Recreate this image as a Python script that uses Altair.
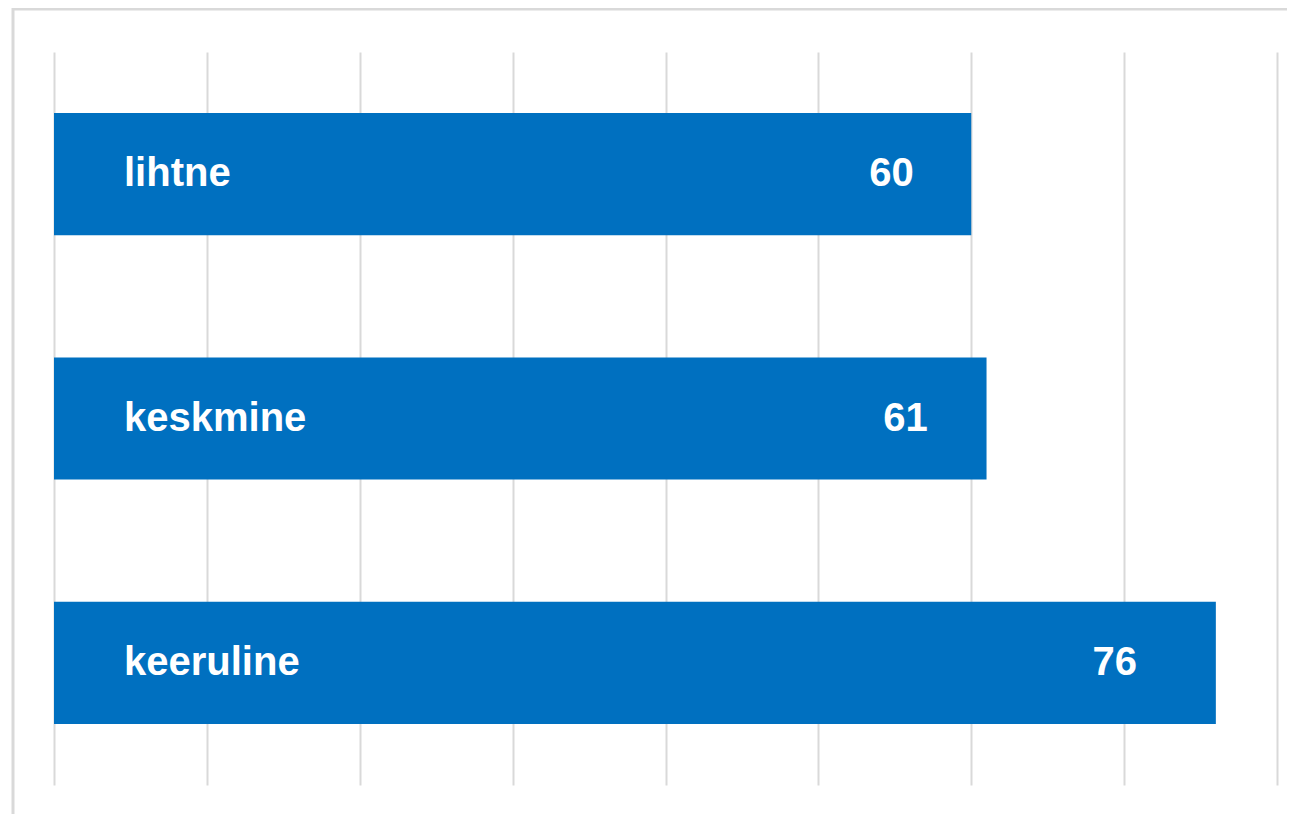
import altair as alt
import pandas as pd

categories = ["lihtne", "keskmine", "keeruline"]
values = [60, 61, 76]
grid_values = [0, 10, 20, 30, 40, 50, 60, 70, 80]

df = pd.DataFrame({"category": categories, "value": values})

W, H = 1223, 733
FONT = "Liberation Sans"

x_scale = alt.Scale(domain=[0, 80], nice=False, zero=True)
y_scale = alt.Scale(domain=categories, paddingInner=0.5, paddingOuter=0.25)

base = alt.Chart(df)

bars = base.mark_bar(color="#0070C0").encode(
    x=alt.X("value:Q", scale=x_scale,
            axis=alt.Axis(values=grid_values, labels=False, ticks=False, domain=False,
                          title=None, grid=True, gridColor="#d9d9d9", gridWidth=2)),
    y=alt.Y("category:N", scale=y_scale, sort=categories, axis=None),
)

cat_labels = base.mark_text(
    align="left", baseline="middle", dx=70, font=FONT, fontWeight="bold",
    fontSize=40, color="white"
).encode(
    x=alt.value(0),
    y=alt.Y("category:N", scale=y_scale, sort=categories),
    text="category:N",
)

val_labels = base.transform_calculate(pos="datum.value * 0.913").mark_text(
    align="center", baseline="middle", font=FONT, fontWeight="bold",
    fontSize=40, color="white"
).encode(
    x=alt.X("pos:Q", scale=x_scale),
    y=alt.Y("category:N", scale=y_scale, sort=categories),
    text="value:Q",
)

frame_data = alt.Data(values=[{"a": 1}])
left_border = alt.Chart(frame_data).mark_rule(color="#d9d9d9", strokeWidth=3).encode(
    x=alt.value(-41), y=alt.value(-44), y2=alt.value(H + 40)
)
top_border = alt.Chart(frame_data).mark_rule(color="#d9d9d9", strokeWidth=3).encode(
    x=alt.value(-42), x2=alt.value(W + 20), y=alt.value(-43)
)

chart = alt.layer(bars, cat_labels, val_labels, left_border, top_border).properties(
    width=W, height=H,
    autosize=alt.AutoSizeParams(type="none"),
    padding={"left": 46, "top": 44, "right": 10, "bottom": 29},
    background="white",
).configure_view(stroke=None)

chart.save("out.html", embed_options={"renderer": "svg", "actions": False})
